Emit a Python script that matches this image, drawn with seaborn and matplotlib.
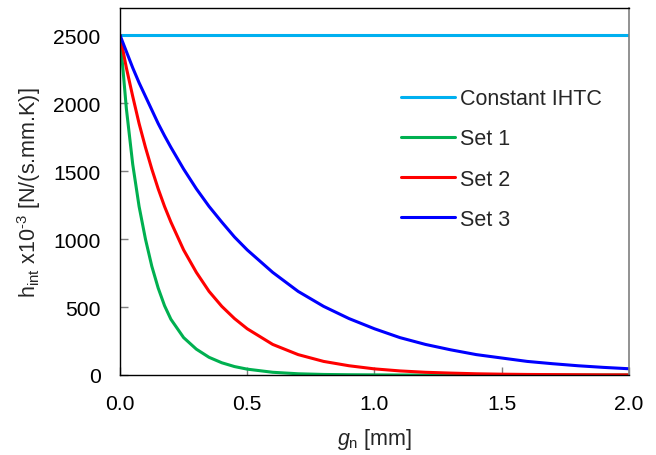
import matplotlib
matplotlib.use("Agg")
import matplotlib.pyplot as plt
import seaborn as sns
import pandas as pd

# Gap values g_n [mm] at which the heat transfer coefficients are tabulated
gap = [0.0, 0.025, 0.05, 0.075, 0.1, 0.125, 0.15, 0.175, 0.2, 0.25, 0.3, 0.35,
       0.4, 0.45, 0.5, 0.6, 0.7, 0.8, 0.9, 1.0, 1.1, 1.2, 1.3, 1.4, 1.5, 1.6,
       1.7, 1.8, 1.9, 2.0]

# h_int x10^-3 [N/(s.mm.K)]
constant_ihtc = [2500] * len(gap)
set1 = [2500, 1960, 1550, 1240, 1000, 800, 640, 510, 410, 275, 190, 130,
        90, 62, 43, 20, 9, 4, 2, 1, 0, 0, 0, 0, 0, 0,
        0, 0, 0, 0]
set2 = [2500, 2260, 2050, 1850, 1675, 1515, 1370, 1240, 1125, 920, 755, 615,
        505, 415, 340, 225, 150, 100, 68, 45, 30, 20, 14, 9, 6, 4,
        3, 2, 1, 1]
set3 = [2500, 2380, 2260, 2150, 2050, 1950, 1850, 1760, 1675, 1515, 1370, 1240,
        1125, 1015, 920, 755, 615, 505, 415, 340, 275, 225, 185, 150, 125, 100,
        83, 68, 56, 46]

series_names = ["Constant IHTC", "Set 1", "Set 2", "Set 3"]
series_colors = ["#00B0F0", "#00B050", "#FF0000", "#0000FF"]

frames = []
for name, vals in zip(series_names, [constant_ihtc, set1, set2, set3]):
    frames.append(pd.DataFrame({"gap": gap, "h": vals, "series": name}))
df = pd.concat(frames, ignore_index=True)

sns.set_theme(style="ticks")
plt.rcParams["font.family"] = ["Liberation Sans", "DejaVu Sans"]
plt.rcParams["mathtext.fontset"] = "custom"
plt.rcParams["mathtext.rm"] = "Liberation Sans"
plt.rcParams["mathtext.it"] = "Liberation Sans:italic"
plt.rcParams["mathtext.default"] = "regular"

tick_fs = 15.2
label_fs = 15.5
fig = plt.figure(figsize=(6.56, 4.56), dpi=100)
ax = fig.add_axes([120 / 656, 1 - 376 / 456, (629 - 120) / 656, (376 - 9) / 456])

sns.lineplot(data=df, x="gap", y="h", hue="series", hue_order=series_names,
             palette=series_colors, linewidth=2.2, ax=ax, legend=True)

ax.set_xlim(0, 2.0)
ax.set_ylim(0, 2700)
ax.set_xticks([0.0, 0.5, 1.0, 1.5, 2.0])
ax.set_xticklabels(["0.0", "0.5", "1.0", "1.5", "2.0"])
ax.set_yticks([0, 500, 1000, 1500, 2000, 2500])

ax.tick_params(axis="both", direction="in", length=6, width=1, color="#7f7f7f",
               labelsize=tick_fs, pad=14, labelcolor="black")
for side in ["left", "bottom", "top"]:
    ax.spines[side].set_color("black")
    ax.spines[side].set_linewidth(1.0)
ax.spines["right"].set_color("#7f7f7f")
ax.spines["right"].set_linewidth(1.2)

ax.set_xlabel(r"$\mathit{g}_{\mathrm{n}}$ [mm]", fontsize=label_fs, labelpad=9)
ax.set_ylabel(r"h$_{\mathrm{int}}$ x10$^{\text{-3}}$ [N/(s.mm.K)]",
              fontsize=label_fs, labelpad=7)

leg = ax.legend(loc="upper left", bbox_to_anchor=(0.5147, 0.834), frameon=False,
                fontsize=label_fs, handlelength=2.51, handletextpad=0.23,
                labelspacing=0.89)
for line in leg.get_lines():
    line.set_linewidth(2.2)

fig.savefig("out.png", dpi=100)
